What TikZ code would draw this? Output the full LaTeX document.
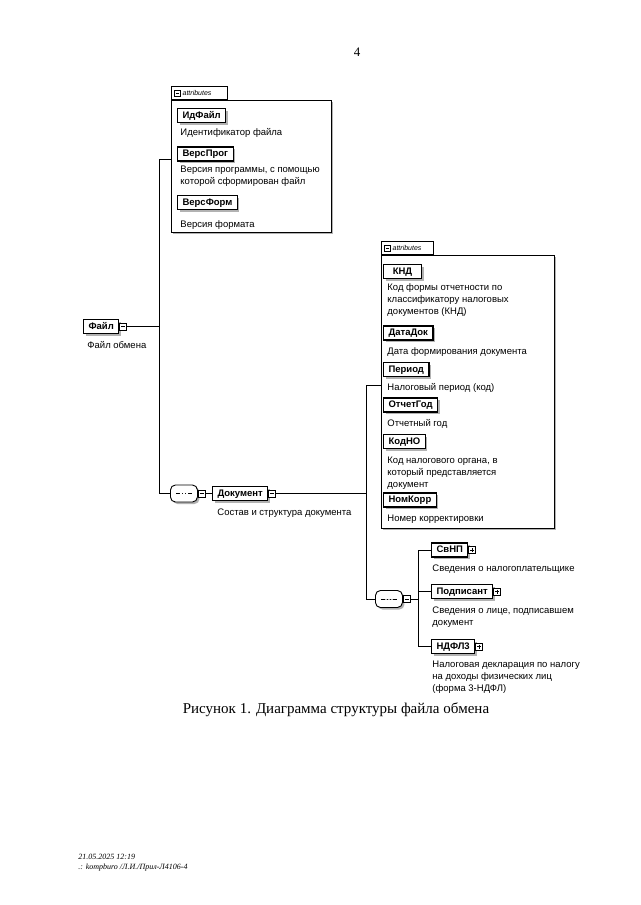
\documentclass[tikz,border=0pt]{standalone}
\usepackage{fontspec}
\setmainfont{Liberation Serif}
\setsansfont{Liberation Sans}
\usetikzlibrary{positioning, calc, shadows}

\begin{document}
\begin{tikzpicture}[x=1pt, y=-1pt, line width=0.9pt,
    shade/.style={general shadow={fill=gray!60, shadow xshift=2pt, shadow yshift=-2pt}},
    elem/.style={draw, fill=white, shade, anchor=west, line width=1.1pt, text height=7pt, text depth=2pt,
        inner xsep=5pt, inner ysep=2.5pt, font=\sffamily\bfseries\fontsize{9.5}{11}\selectfont},
    attr/.style={elem, minimum width=38pt},
    desc/.style={anchor=north west, align=left, inner sep=0pt, font=\sffamily\fontsize{9.5}{12}\selectfont},
    minus/.style={draw, fill=white, anchor=west, minimum size=7pt, inner sep=0pt, line width=0.7pt,
        path picture={\draw ([xshift=1.5pt]path picture bounding box.west) -- ([xshift=-1.5pt]path picture bounding box.east);}},
    plus/.style={draw, fill=white, anchor=west, minimum size=7pt, inner sep=0pt, line width=0.7pt,
        path picture={\draw ([xshift=1.5pt]path picture bounding box.west) -- ([xshift=-1.5pt]path picture bounding box.east);
            \draw ([yshift=-1.5pt]path picture bounding box.north) -- ([yshift=1.5pt]path picture bounding box.south);}},
    seq/.style={draw, fill=white, shade, anchor=west, rounded corners=5pt, minimum width=27pt, minimum height=17pt, inner sep=0pt,
        path picture={\draw ([xshift=-8pt]path picture bounding box.center) -- ([xshift=8pt]path picture bounding box.center);
            \foreach \d in {-3pt,0pt,3pt} \fill ([xshift=\d]path picture bounding box.center) circle (1.1pt);}},
    frame/.style={draw, fill=white, shade, anchor=north west, inner sep=0pt},
    tabbox/.style={draw, fill=white, anchor=south west, minimum height=13pt, inner sep=0pt},
    tablabel/.style={anchor=west, inner sep=1.5pt, font=\sffamily\itshape\fontsize{7}{8}\selectfont}]

    \useasboundingbox[fill=white] (0,0) rectangle (640,905);

    % Page number
    \node[anchor=base, font=\fontsize{13}{15}\selectfont] (pagenum) at (357,56) {4};

    % Root element
    \node[elem] (fajl) at (83,326.5) {Файл};
    \node[minus] (fajlm) at (fajl.east) {};
    \node[desc] (fajld) at (87,341) {Файл обмена};

    % Attributes of Файл
    \node[frame, minimum width=160pt, minimum height=132pt] (attA) at (171,100) {};
    \node[tabbox, minimum width=56pt] (tabA) at (attA.north west) {};
    \node[minus, minimum size=6pt] (tabAm) at ([xshift=3pt]tabA.west) {};
    \node[tablabel] (tabAt) at (tabAm.east) {attributes};

    \node[attr] (idfajl) at (177,115.5) {ИдФайл};
    \node[desc] (idfajld) at (180,128) {Идентификатор файла};
    \node[attr] (versprog) at (177,154) {ВерсПрог};
    \node[desc] (versprogd) at (180,166) {Версия программы, с помощью\\которой сформирован файл};
    \node[attr] (versform) at (177,202.5) {ВерсФорм};
    \node[desc] (versformd) at (180,220) {Версия формата};

    % Sequence with Документ
    \node[seq] (seq1) at (170,493.5) {};
    \node[minus] (seq1m) at (seq1.east) {};
    \node[elem] (dok) at (212,493.5) {Документ};
    \node[minus] (dokm) at (dok.east) {};
    \node[desc] (dokd) at (217,508) {Состав и структура документа};

    % Attributes of Документ
    \node[frame, minimum width=173pt, minimum height=273pt] (attB) at (381,255) {};
    \node[tabbox, minimum width=52pt] (tabB) at (attB.north west) {};
    \node[minus, minimum size=6pt] (tabBm) at ([xshift=3pt]tabB.west) {};
    \node[tablabel] (tabBt) at (tabBm.east) {attributes};

    \node[attr] (knd) at (383,271.5) {КНД};
    \node[desc] (kndd) at (387,283) {Код формы отчетности по\\классификатору налоговых\\документов (КНД)};
    \node[attr] (datadok) at (383,333) {ДатаДок};
    \node[desc] (datadokd) at (387,347) {Дата формирования документа};
    \node[attr] (period) at (383,369.5) {Период};
    \node[desc] (periodd) at (387,383) {Налоговый период (код)};
    \node[attr] (otchgod) at (383,405) {ОтчетГод};
    \node[desc] (otchgodd) at (387,419) {Отчетный год};
    \node[attr] (kodno) at (383,441.5) {КодНО};
    \node[desc] (kodnod) at (387,457) {Код налогового органа, в\\который представляется\\документ};
    \node[attr] (nomkorr) at (383,500) {НомКорр};
    \node[desc] (nomkorrd) at (387,515) {Номер корректировки};

    % Child elements of Документ
    \node[seq] (seq2) at (375,599) {};
    \node[minus] (seq2m) at (seq2.east) {};
    \node[elem] (svnp) at (431,550) {СвНП};
    \node[plus] (svnpp) at (svnp.east) {};
    \node[desc] (svnpd) at (432,564) {Сведения о налогоплательщике};
    \node[elem] (podp) at (431,591.5) {Подписант};
    \node[plus] (podpp) at (podp.east) {};
    \node[desc] (podpd) at (432,606) {Сведения о лице, подписавшем\\документ};
    \node[elem] (ndfl) at (431,646.5) {НДФЛ3};
    \node[plus] (ndflp) at (ndfl.east) {};
    \node[desc] (ndfld) at (432,661) {Налоговая декларация по налогу\\на доходы физических лиц\\(форма 3-НДФЛ)};

    % Connectors
    \coordinate (busA) at (159,0);
    \coordinate (busB) at (366,0);
    \coordinate (busC) at (418,0);
    \coordinate (inA) at ($(tabA.north west)!0.5!(attA.south west)$);
    \coordinate (inB) at ($(tabB.north west)!0.5!(attB.south west)$);
    \draw (fajlm.east) -- (fajlm.east -| busA);
    \draw (inA) -- (inA -| busA) |- (seq1.west);
    \draw (seq1m.east) -- (dok.west);
    \draw (dokm.east) -- (dokm.east -| busB);
    \draw (inB) -- (inB -| busB) |- (seq2.west);
    \draw (seq2m.east) -- (seq2m.east -| busC);
    \draw (svnp.west) -- (svnp.west -| busC) |- (ndfl.west);
    \draw (podp.west) -- (podp.west -| busC);

    % Caption
    \node[anchor=base, font=\fontsize{15}{17}\selectfont] (caption) at (336,713) {Рисунок 1. Диаграмма структуры файла обмена};

    % Stamp
    \node[anchor=base west, inner sep=0pt, font=\itshape\fontsize{8}{10}\selectfont] (stampa) at (78,859) {21.05.2025 12:19};
    \node[anchor=base west, inner sep=0pt, font=\itshape\fontsize{8}{10}\selectfont] (stampb) at (78,869) {.: kompburo /Л.И./Прил-Л4106-4};
\end{tikzpicture}
\end{document}
